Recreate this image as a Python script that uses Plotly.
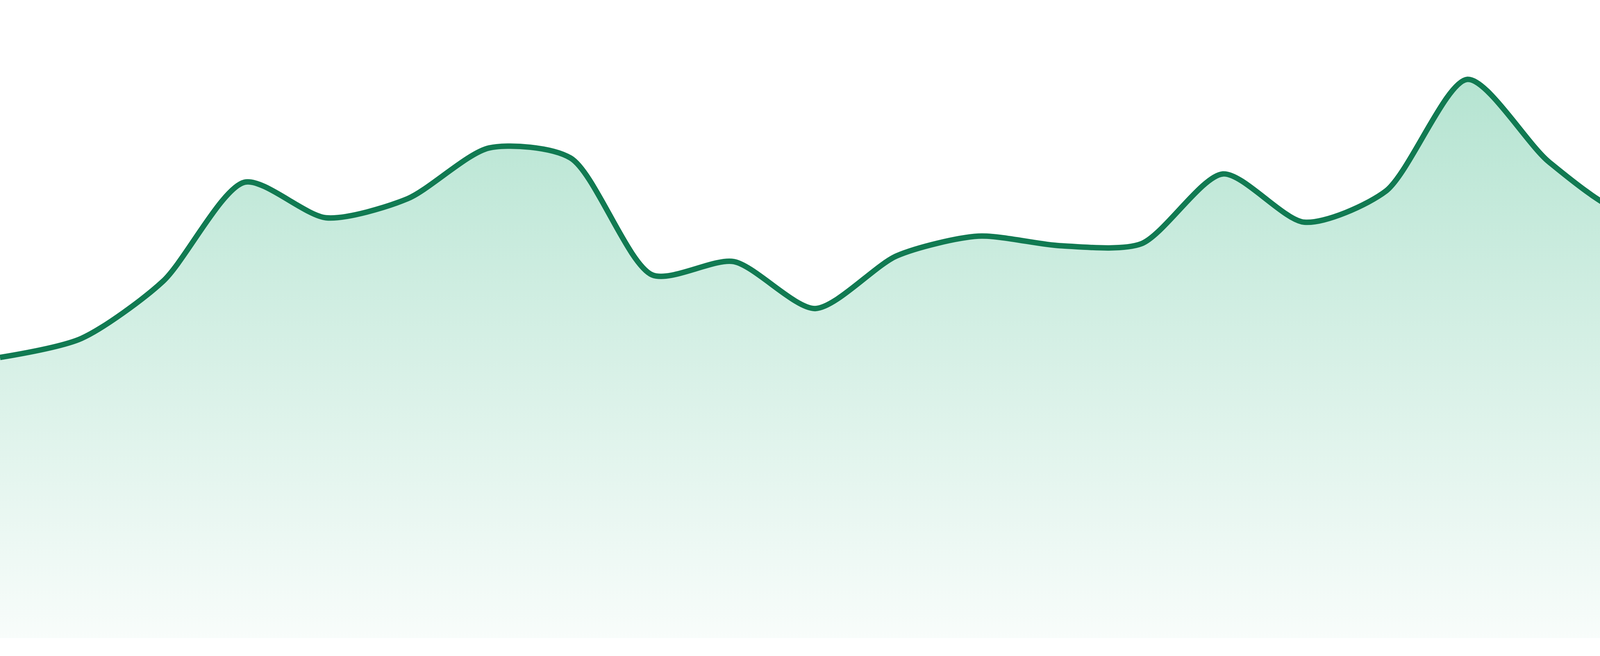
import plotly.graph_objects as go

# 24 evenly spaced samples, sparkline style (no axes)
steps = [0, 1, 2, 3, 4, 5, 6, 7, 8, 9, 10, 11,
         12, 13, 14, 15, 16, 17, 18, 19, 20, 21, 22, 23]
values = [44.2, 47.2, 56.2, 71.8, 66.2, 69.2, 77.2, 75.6,
          57.2, 59.3, 51.9, 60.2, 63.3, 61.8, 62.1, 73.1,
          65.5, 70.4, 88.0, 75.0, 66.7, 71.3, 62.7, 59.6]

line_col = "#117a52"

area = go.Scatter(
    x=steps, y=values,
    mode="lines",
    line=dict(color=line_col, width=14, shape="spline", smoothing=0.75),
    fill="tozeroy",
    fillgradient=dict(
        type="vertical",
        start=0, stop=100.5,
        colorscale=[[0, "rgba(24,170,112,0.03)"],
                     [1, "rgba(24,170,112,0.36)"]],
    ),
    hoverinfo="skip",
)

fig = go.Figure(data=[area])
fig.update_layout(
    width=4800, height=1680,
    margin=dict(l=0, r=0, t=0, b=46),
    paper_bgcolor="white",
    plot_bgcolor="white",
    showlegend=False,
)
fig.update_xaxes(visible=False, range=[0, 23], fixedrange=True)
fig.update_yaxes(visible=False, range=[0, 100.5], fixedrange=True)

# page body has a default 8px margin; drop it so the chart fills the window
fig.write_html(
    "out.html",
    post_script="document.body.style.margin='0';document.body.style.overflow='hidden';",
)
